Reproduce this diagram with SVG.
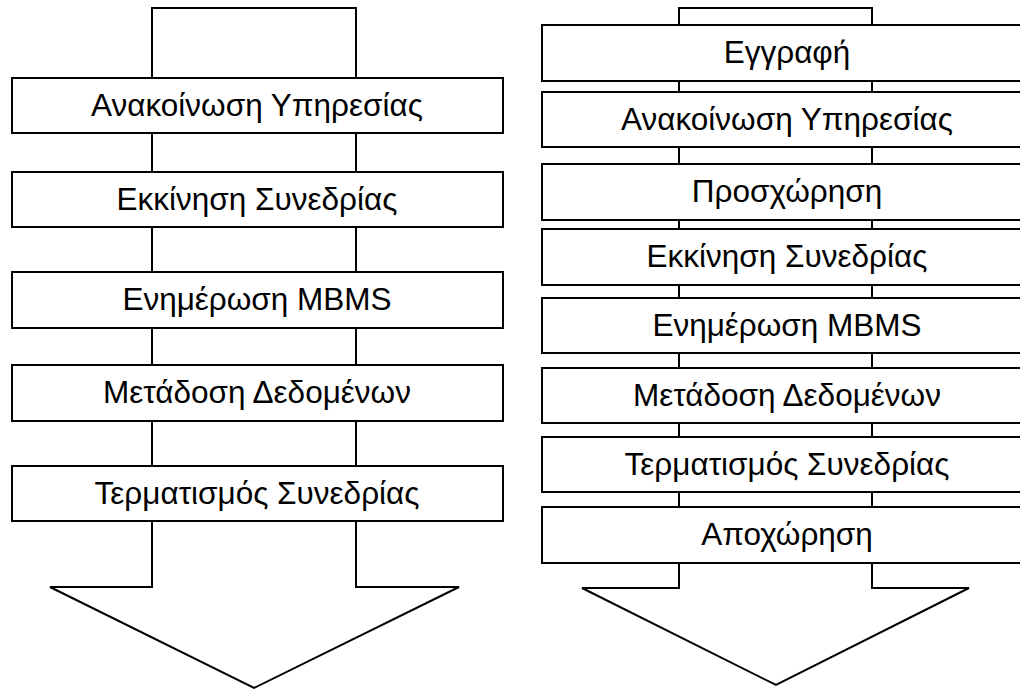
<svg xmlns="http://www.w3.org/2000/svg" width="1020" height="690" viewBox="0 0 1020 690">
  <style>
    .arrow { fill: #ffffff; stroke: #000000; stroke-width: 2; stroke-linejoin: miter; }
    .box { fill: #ffffff; stroke: #000000; stroke-width: 2; }
    .lbl { font-family: "Liberation Sans", Arial, sans-serif; font-size: 31.5px; fill: #000000; text-anchor: middle; }
  </style>
  <rect x="0" y="0" width="1020" height="690" fill="#ffffff"/>
  <g id="connectors">
    <polygon class="arrow" points="152,8 356,8 356,587 459,587 254,688 50,587 152,587"/>
    <polygon class="arrow" points="679,8 872,8 872,588 969,588 776,685 582,588 679,588"/>
  </g>
  <g id="left-1"><rect class="box" x="12" y="78" width="491" height="55"/><text class="lbl" x="257" y="116">Ανακοίνωση Υπηρεσίας</text></g>
  <g id="left-2"><rect class="box" x="12" y="172" width="491" height="55"/><text class="lbl" x="257" y="210">Εκκίνηση Συνεδρίας</text></g>
  <g id="left-3"><rect class="box" x="12" y="272" width="491" height="56"/><text class="lbl" x="257" y="310">Ενημέρωση MBMS</text></g>
  <g id="left-4"><rect class="box" x="12" y="365" width="491" height="56"/><text class="lbl" x="257" y="403">Μετάδοση Δεδομένων</text></g>
  <g id="left-5"><rect class="box" x="12" y="466" width="491" height="55"/><text class="lbl" x="257" y="504">Τερματισμός Συνεδρίας</text></g>
  <g id="right-1"><rect class="box" x="542" y="25" width="491" height="56"/><text class="lbl" x="787" y="63">Εγγραφή</text></g>
  <g id="right-2"><rect class="box" x="542" y="92" width="491" height="55"/><text class="lbl" x="787" y="130">Ανακοίνωση Υπηρεσίας</text></g>
  <g id="right-3"><rect class="box" x="542" y="164" width="491" height="56"/><text class="lbl" x="787" y="202">Προσχώρηση</text></g>
  <g id="right-4"><rect class="box" x="542" y="229" width="491" height="56"/><text class="lbl" x="787" y="267">Εκκίνηση Συνεδρίας</text></g>
  <g id="right-5"><rect class="box" x="542" y="298" width="491" height="55"/><text class="lbl" x="787" y="336">Ενημέρωση MBMS</text></g>
  <g id="right-6"><rect class="box" x="542" y="368" width="491" height="55"/><text class="lbl" x="787" y="406">Μετάδοση Δεδομένων</text></g>
  <g id="right-7"><rect class="box" x="542" y="437" width="491" height="55"/><text class="lbl" x="787" y="475">Τερματισμός Συνεδρίας</text></g>
  <g id="right-8"><rect class="box" x="542" y="507" width="491" height="56"/><text class="lbl" x="787" y="545">Αποχώρηση</text></g>
</svg>
